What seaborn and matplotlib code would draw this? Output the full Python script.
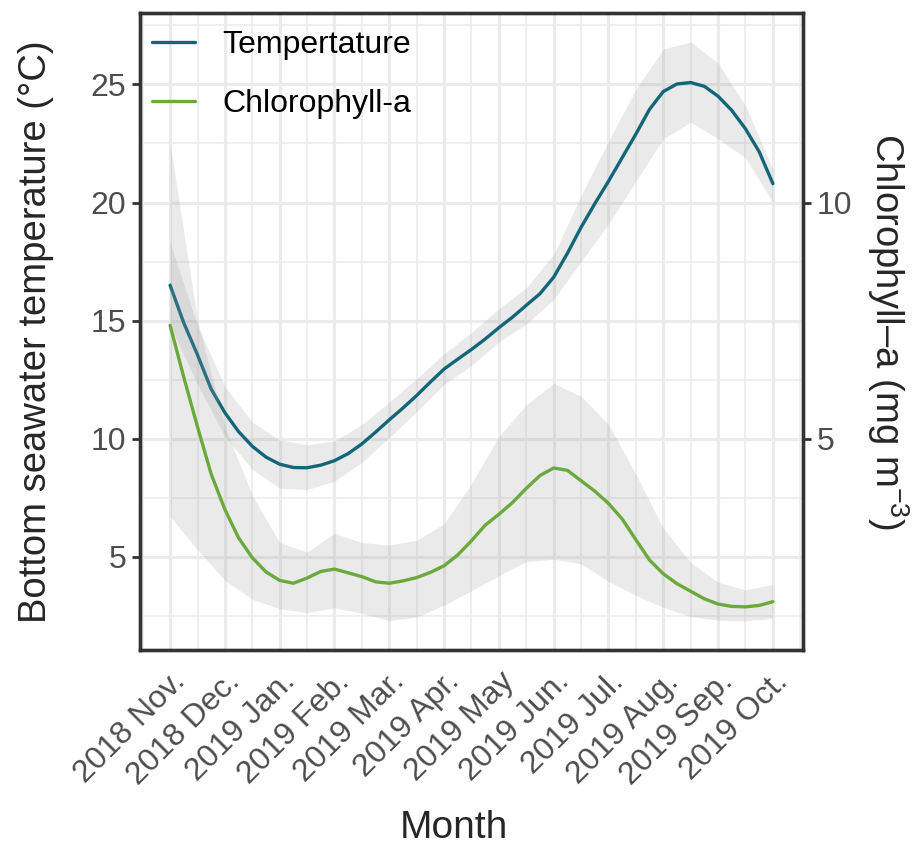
import numpy as np
import pandas as pd
import matplotlib
matplotlib.use("Agg")
import matplotlib.pyplot as plt
import seaborn as sns
from matplotlib.ticker import MultipleLocator

fit_pos = [1.0, 1.25, 1.5, 1.75, 2.0, 2.25, 2.5, 2.75, 3.0, 3.25, 3.5, 3.75,
           4.0, 4.25, 4.5, 4.75, 5.0, 5.25, 5.5, 5.75, 6.0, 6.25, 6.5, 6.75,
           7.0, 7.25, 7.5, 7.75, 8.0, 8.25, 8.5, 8.75, 9.0, 9.25, 9.5, 9.75,
           10.0, 10.25, 10.5, 10.75, 11.0, 11.25, 11.5, 11.75, 12.0]

temp_fit = [16.5, 14.9, 13.55, 12.1, 11.1, 10.3, 9.68, 9.22, 8.92, 8.78, 8.77, 8.88,
            9.07, 9.37, 9.78, 10.28, 10.8, 11.3, 11.83, 12.4, 12.95, 13.37, 13.78, 14.22,
            14.7, 15.15, 15.65, 16.14, 16.84, 17.85, 18.95, 19.95, 20.9, 21.9, 22.9, 23.95,
            24.7, 25.02, 25.08, 24.92, 24.5, 23.9, 23.12, 22.15, 20.8]

chl_fit = [7.4, 6.3, 5.25, 4.25, 3.5, 2.9, 2.48, 2.18, 2.0, 1.94, 2.05, 2.19,
           2.24, 2.16, 2.08, 1.97, 1.94, 1.99, 2.06, 2.17, 2.31, 2.54, 2.84, 3.17,
           3.4, 3.65, 3.95, 4.22, 4.38, 4.33, 4.11, 3.89, 3.63, 3.3, 2.86, 2.43,
           2.14, 1.93, 1.77, 1.61, 1.5, 1.45, 1.44, 1.47, 1.55]

# confidence bands, every half month
band_pos = [1.0, 1.5, 2.0, 2.5, 3.0, 3.5, 4.0, 4.5, 5.0, 5.5, 6.0, 6.5,
            7.0, 7.5, 8.0, 8.5, 9.0, 9.5, 10.0, 10.5, 11.0, 11.5, 12.0]

temp_lo = [14.8, 12.3, 10.1, 8.7, 7.9, 7.85, 8.2, 9.0, 10.05, 11.15, 12.3, 13.1,
           14.1, 14.85, 15.9, 17.5, 19.1, 20.9, 22.7, 23.4, 22.7, 21.9, 20.0]
temp_hi = [18.3, 14.8, 12.2, 10.7, 9.95, 9.75, 9.9, 10.6, 11.55, 12.55, 13.6, 14.5,
           15.5, 16.4, 17.8, 20.3, 22.6, 24.8, 26.5, 26.8, 25.9, 24.1, 21.4]

chl_lo = [3.35, 2.65, 2.0, 1.6, 1.4, 1.32, 1.42, 1.3, 1.15, 1.22, 1.48, 1.78,
          2.1, 2.4, 2.45, 2.35, 1.98, 1.68, 1.43, 1.23, 1.16, 1.14, 1.2]
chl_hi = [11.25, 7.5, 5.25, 3.8, 2.8, 2.6, 3.0, 2.8, 2.75, 2.85, 3.2, 4.05,
          5.05, 5.72, 6.17, 5.9, 5.3, 4.25, 3.1, 2.38, 1.96, 1.8, 1.92]

month_labels = ["2018 Nov.", "2018 Dec.", "2019 Jan.", "2019 Feb.", "2019 Mar.",
                "2019 Apr.", "2019 May", "2019 Jun.", "2019 Jul.", "2019 Aug.",
                "2019 Sep.", "2019 Oct."]

temp_color = "#13667A"
chl_color = "#6AAA3C"
ribbon = "#999999"

fits = pd.DataFrame({"month": fit_pos, "temp": temp_fit, "chl": chl_fit})
bands = pd.DataFrame({"month": band_pos, "temp_lo": temp_lo, "temp_hi": temp_hi,
                      "chl_lo": chl_lo, "chl_hi": chl_hi})

sns.set_style("white")
plt.rcParams["font.family"] = ["Liberation Sans", "DejaVu Sans"]
plt.rcParams["mathtext.fontset"] = "custom"
plt.rcParams["mathtext.rm"] = "Liberation Sans"
plt.rcParams["mathtext.it"] = "Liberation Sans"

fig = plt.figure(figsize=(9.19, 8.48), dpi=100)
ax = fig.add_axes([0.1523, 0.2335, 0.7215, 0.7512])
ax2 = ax.twinx()

# temperature on the left scale
ax.fill_between(bands["month"], bands["temp_lo"], bands["temp_hi"], color=ribbon,
                alpha=0.2, linewidth=0)
sns.lineplot(data=fits, x="month", y="temp", ax=ax, color=temp_color,
             linewidth=2.4, label="Tempertature")

# chlorophyll on the right scale (right = left / 2)
ax2.fill_between(bands["month"], bands["chl_lo"], bands["chl_hi"], color=ribbon,
                 alpha=0.2, linewidth=0)
sns.lineplot(data=fits, x="month", y="chl", ax=ax2, color=chl_color,
             linewidth=2.4, label="Chlorophyll-a")

lo = min(min(temp_lo), 2 * min(chl_lo))
hi = max(max(temp_hi), 2 * max(chl_hi))
pad = 0.05 * (hi - lo)
ax.set_ylim(lo - pad, hi + pad)
ax2.set_ylim((lo - pad) / 2, (hi + pad) / 2)
ax.set_xlim(0.45, 12.55)

ax.set_xticks(range(1, 13))
ax.set_xticklabels(month_labels, rotation=45, ha="right",
                   rotation_mode="anchor")
ax.xaxis.set_minor_locator(MultipleLocator(0.5))
ax.set_yticks([5, 10, 15, 20, 25])
ax.yaxis.set_minor_locator(MultipleLocator(2.5))
ax2.set_yticks([5, 10])

ax.grid(which="major", color="#EBEBEB", linewidth=2.2)
ax.grid(which="minor", color="#EBEBEB", linewidth=1.1)
ax.set_axisbelow(True)

for a in (ax, ax2):
    for s in a.spines.values():
        s.set_color("#333333")
        s.set_linewidth(2.4)
    a.tick_params(which="major", length=6, width=2, color="#333333",
                  labelsize=23, labelcolor="#4D4D4D", pad=4)
    a.tick_params(which="minor", length=0)
ax.tick_params(axis="x", pad=6)

ax.set_xlabel("Month", fontsize=28, labelpad=14, x=0.474, ha="center")
ax.set_ylabel("Bottom seawater temperature (°C)", fontsize=27.5, labelpad=26)
ax2.set_ylabel("Chlorophyll\u2013a (mg m$^{-3}$)", fontsize=27.5, rotation=270,
               labelpad=42)

h1, l1 = ax.get_legend_handles_labels()
h2, l2 = ax2.get_legend_handles_labels()
if ax.get_legend() is not None:
    ax.get_legend().remove()
ax2.legend(h1 + h2, l1 + l2, loc="upper left", bbox_to_anchor=(0.018, 0.973),
           frameon=False, fontsize=23, handlelength=1.35, handletextpad=0.85,
           labelspacing=0.9, borderpad=0, borderaxespad=0, labelcolor="black")

fig.savefig("out.png", dpi=100)
